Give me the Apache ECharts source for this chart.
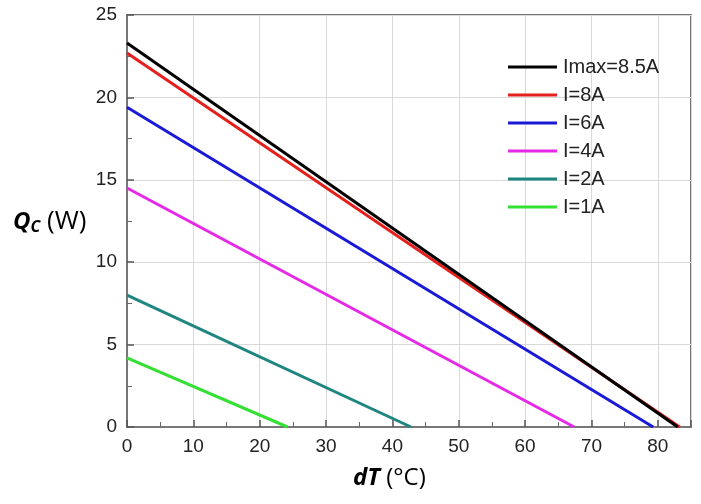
<!DOCTYPE html>
<html>
<head>
<meta charset="utf-8">
<script src="https://cdn.jsdelivr.net/npm/echarts@6/dist/echarts.min.js"></script>
<style>html,body{margin:0;padding:0;background:#fff}#c{width:701px;height:504px}</style>
</head>
<body>
<div id="c"></div>
<script>
// Data
const seriesNames = ['Imax=8.5A', 'I=8A', 'I=6A', 'I=4A', 'I=2A', 'I=1A'];
const qcAtZero = [23.3, 22.7, 19.4, 14.5, 8.0, 4.2];    // Qc (W) at dT = 0
const dTAtZeroQ = [83.0, 83.3, 79.3, 67.4, 42.8, 24.2]; // dT (°C) where Qc = 0
const xTicks = [0, 10, 20, 30, 40, 50, 60, 70, 80];
const yTicks = [0, 5, 10, 15, 20, 25];
const colors = ['#000000', '#e3201b', '#1a1ad6', '#e629e6', '#1f8580', '#33e033'];

const chart = echarts.init(document.getElementById('c'), null, {renderer: 'canvas'});
const series = seriesNames.map((n, i) => ({
  name: n,
  type: 'line',
  data: [[0, qcAtZero[i]], [dTAtZeroQ[i], 0]],
  showSymbol: false,
  symbol: 'none',
  lineStyle: {color: colors[i], width: 3},
  itemStyle: {color: colors[i]},
  z: 10 - i
}));
series[0].z = 11;

chart.setOption({
  animation: false,
  backgroundColor: '#fff',
  grid: {left: 127, top: 15, right: 10, bottom: 77, show: true, borderColor: '#4a4a4a', borderWidth: 1.5, backgroundColor: 'transparent'},
  legend: {
    orient: 'vertical', left: 503, top: 52,
    itemWidth: 49, itemHeight: 3, itemGap: 8,
    icon: 'rect',
    textStyle: {fontFamily: 'Liberation Sans', fontSize: 20, color: '#222', lineHeight: 20, padding: [0, 0, 0, 1]},
    data: seriesNames
  },
  xAxis: {
    type: 'value', min: 0, max: 85, interval: 10,
    axisLine: {show: true, onZero: false, lineStyle: {color: '#777', width: 2}},
    axisTick: {show: true, inside: true, length: 7, lineStyle: {color: '#555', width: 1.5}},
    minorTick: {show: true, splitNumber: 2, length: 5, lineStyle: {color: '#666'}},
    splitLine: {show: true, lineStyle: {color: '#d9d9d9', width: 1}},
    axisLabel: {
      fontFamily: 'Liberation Sans', fontSize: 19, color: '#222', margin: 10, showMaxLabel: false,
      formatter: v => xTicks.includes(v) ? String(v) : ''
    }
  },
  yAxis: {
    type: 'value', min: 0, max: 25, interval: 5,
    axisLine: {show: true, onZero: false, lineStyle: {color: '#777', width: 2}},
    axisTick: {show: true, inside: true, length: 7, lineStyle: {color: '#555', width: 1.5}},
    minorTick: {show: true, splitNumber: 2, length: 5, lineStyle: {color: '#666'}},
    splitLine: {show: true, lineStyle: {color: '#d9d9d9', width: 1}},
    axisLabel: {
      fontFamily: 'Liberation Sans', fontSize: 19, color: '#222', margin: 10,
      formatter: v => yTicks.includes(v) ? String(v) : ''
    }
  },
  graphic: [
    {
      type: 'text', left: 13, top: 209,
      style: {
        rich: {
          q: {fontFamily: 'Open Sans', fontWeight: 'bold', fontStyle: 'italic', fontSize: 24, fill: '#000'},
          s: {fontFamily: 'Open Sans', fontWeight: 'bold', fontStyle: 'italic', fontSize: 16, fill: '#000', verticalAlign: 'bottom', padding: [9, 0, 0, 0]},
          n: {fontFamily: 'Open Sans', fontSize: 26, fill: '#000'}
        },
        text: '{q|Q}{s|C}{n| (W)}'
      }
    },
    {
      type: 'text', left: 353, top: 466,
      style: {
        rich: {
          b: {fontFamily: 'Open Sans', fontWeight: 'bold', fontStyle: 'italic', fontSize: 24, fill: '#000'},
          n: {fontFamily: 'Open Sans', fontSize: 24, fill: '#000'}
        },
        text: '{b|dT}{n| (°C)}'
      }
    }
  ],
  series: series
});
</script>
</body>
</html>
